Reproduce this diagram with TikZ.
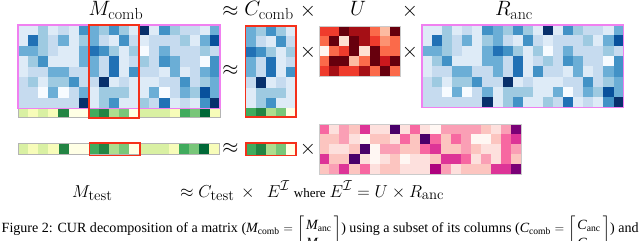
\documentclass[tikz,border=0pt]{standalone}
\usepackage{amsmath}
\usepackage{fontspec}
\newfontfamily\capfont{Liberation Serif}
\DeclareMathSizes{20}{20}{16}{12}
\DeclareMathSizes{18.5}{18.5}{14.8}{10.5}
% Blues
\definecolor{B0}{HTML}{F7FBFF}\definecolor{B1}{HTML}{DEEBF7}\definecolor{B2}{HTML}{C6DBEF}
\definecolor{B3}{HTML}{9ECAE1}\definecolor{B4}{HTML}{6BAED6}\definecolor{B5}{HTML}{4292C6}
\definecolor{B6}{HTML}{2171B5}\definecolor{B7}{HTML}{08519C}\definecolor{B8}{HTML}{08306B}
% YlGn
\definecolor{G0}{HTML}{FFFFE5}\definecolor{G1}{HTML}{F7FCB9}\definecolor{G2}{HTML}{D9F0A3}
\definecolor{G3}{HTML}{ADDD8E}\definecolor{G4}{HTML}{78C679}\definecolor{G5}{HTML}{41AB5D}
\definecolor{G6}{HTML}{238443}\definecolor{G7}{HTML}{006837}\definecolor{G8}{HTML}{004529}
% Reds
\definecolor{R0}{HTML}{FFF5F0}\definecolor{R1}{HTML}{FEE0D2}\definecolor{R2}{HTML}{FCBBA1}
\definecolor{R3}{HTML}{FC9272}\definecolor{R4}{HTML}{FB6A4A}\definecolor{R5}{HTML}{EF3B2C}
\definecolor{R6}{HTML}{CB181D}\definecolor{R7}{HTML}{A50F15}\definecolor{R8}{HTML}{67000D}
% RdPu
\definecolor{P0}{HTML}{FFF7F3}\definecolor{P1}{HTML}{FDE0DD}\definecolor{P2}{HTML}{FCC5C0}
\definecolor{P3}{HTML}{FA9FB5}\definecolor{P4}{HTML}{F768A1}\definecolor{P5}{HTML}{DD3497}
\definecolor{P6}{HTML}{AE017E}\definecolor{P7}{HTML}{7A0177}\definecolor{P8}{HTML}{49006A}
\definecolor{pinkc}{HTML}{F080F0}
\definecolor{redc}{HTML}{F5301A}
\definecolor{grayc}{HTML}{B4B4B4}

\def\Mdata{{1,1,3,1,2,1,5,4,3,5,3,1,8,1,5,3,2,2,1,4},
{1,6,3,2,4,1,3,4,2,1,5,2,1,2,2,2,3,1,4,7},
{4,4,3,2,1,1,4,6,5,3,1,3,0,2,4,2,2,2,3,2},
{1,3,5,1,1,1,4,4,2,6,1,2,3,2,5,4,2,2,0,5},
{1,2,2,4,4,2,2,4,2,6,1,5,2,2,1,4,1,2,4,5},
{2,3,1,3,3,5,2,2,8,1,2,1,1,1,2,2,5,2,3,4},
{2,2,0,4,0,2,4,1,3,3,3,1,1,4,0,2,4,3,7,4},
{2,2,2,2,2,2,8,1,3,5,1,1,3,2,6,1,2,1,5,8}}
\def\Cdata{{4,3,5,3,1},{4,2,1,5,2},{6,5,3,1,3},{4,2,6,1,2},{4,2,6,1,5},{2,8,1,2,1},{1,3,3,3,1},{1,3,5,1,1}}
\def\Gdata{{2,1,2,1,6,0,0,5,6,3,4,0,2,2,2,1,5,4,7,1}}
\def\CGdata{{5,6,3,4,0}}
\def\Udata{{5,5,8,7,7,4,2,8},{4,8,1,8,7,5,3,4},{0,4,5,8,1,8,4,4},{4,8,8,2,4,8,6,8},{5,7,5,5,7,4,8,4}}
\def\Edata{{4,1,3,2,5,1,1,8,1,4,1,0,3,3,3,3,2,1,3,7},
{2,2,3,1,0,2,2,1,4,2,8,4,2,4,3,0,0,2,4,5},
{2,1,1,2,8,0,3,3,2,2,4,5,2,2,3,2,1,1,4,3},
{5,2,2,8,1,0,1,2,0,1,1,2,5,5,4,1,3,1,4,2},
{2,3,5,2,4,1,2,2,1,1,1,6,3,1,2,2,2,5,5,7}}

% #1 x0, #2 y0, #3 cell width, #4 cell height, #5 colour prefix, #6 data macro
\newcommand\heatmap[6]{%
  \foreach \rowvals [count=\j from 0] in #6 {
    \foreach \v [count=\i from 0] in \rowvals {
      \fill[fill=#5\v] ({#1+\i*#3},{#2+\j*#4}) rectangle ++({#3+0.25},{#4+0.25});
    }
  }%
}
\newcommand\capsub[1]{\mbox{\fontsize{9}{9}\selectfont #1}}
\newcommand\capvar[2]{\mbox{\itshape #1}_{\capsub{#2}}}
\newcommand\capmat[2]{\raisebox{-5.6pt}{$\left[\begin{array}{@{\,}c@{\,}} #1 \\[1pt] #2 \end{array}\right]$}}

\tikzset{
  lab/.style={font=\fontsize{20}{24}\selectfont, inner sep=0pt},
  labsmall/.style={font=\fontsize{18.5}{22}\selectfont, inner sep=0pt},
  pinkbox/.style={draw=pinkc, line width=1.3pt},
  redbox/.style={draw=redc, line width=1.6pt},
  graybox/.style={draw=grayc, line width=0.8pt},
  thinbox/.style={draw=grayc!70, line width=0.5pt},
}

\begin{document}
\begin{tikzpicture}[x=1pt,y=-1pt]
\useasboundingbox (0,0) rectangle (640,241);
\fill[white] (0,0) rectangle (640,241);
\clip (0,0) rectangle (640,241);

% M_comb
\heatmap{18}{25}{10.1}{10.4}{B}{\Mdata}
\heatmap{18}{108.6}{10.1}{8.8}{G}{\Gdata}
\draw[graybox] (18,108.6) rectangle (220,117.4);
\draw[pinkbox] (18,25) rectangle (220,108.2);
\draw[redbox] (88.7,25) rectangle (139.2,118);

% C_comb
\heatmap{245.5}{26}{10.1}{10.25}{B}{\Cdata}
\heatmap{245.5}{108}{10.1}{9.2}{G}{\CGdata}
\draw[redbox] (245.5,26) rectangle (296,117.2);

% U
\heatmap{319}{26}{10.1}{10}{R}{\Udata}
\draw[thinbox] (319,26) rectangle (399.8,76);

% R_anc
\heatmap{422}{25}{10.08}{10.3}{B}{\Mdata}
\draw[pinkbox] (422,25) rectangle (623.6,107.4);

% M_test
\heatmap{18.3}{143.3}{10.05}{11}{G}{\Gdata}
\draw[graybox] (18.3,143.3) rectangle (219.3,154.3);
\draw[redbox] (89.5,142.7) rectangle (139.8,155.4);

% C_test
\heatmap{246}{143.3}{10}{11}{G}{\CGdata}
\draw[redbox] (246,142.7) rectangle (296,155.4);

% E
\heatmap{319}{124}{10.13}{10}{P}{\Edata}
\draw[thinbox] (319,124) rectangle (521.6,174);

% labels
\node[lab, anchor=base] (lMcomb) at (116,16) {$M_{\mathrm{comb}}$};
\node[lab] (ap1) at (230.5,11.5) {$\approx$};
\node[lab, anchor=base] (lCcomb) at (269,16) {$C_{\mathrm{comb}}$};
\node[lab] (tm1) at (308,11.5) {$\times$};
\node[lab, anchor=base] (lU) at (358,16) {$U$};
\node[lab] (tm2) at (410,11.5) {$\times$};
\node[lab, anchor=base] (lRanc) at (514,16) {$R_{\mathrm{anc}}$};
\node[lab] (ap2) at (230.5,70) {$\approx$};
\node[lab] (tm3) at (308,52) {$\times$};
\node[lab] (tm4) at (410,52) {$\times$};
\node[lab] (ap3) at (230.5,148.5) {$\approx$};
\node[lab] (tm5) at (308,149) {$\times$};
\node[labsmall, anchor=base west] (lMtest) at (72,197) {$M_{\mathrm{test}}$};
\node[labsmall, anchor=base west] (lbottom) at (180,197)
  {$\approx C_{\mathrm{test}}\,\times\,\ E^{\mathcal{I}}$\hspace{4pt}{\capfont\fontsize{13}{16}\selectfont where}\hspace{4pt}$E^{\mathcal{I}} = U \times R_{\mathrm{anc}}$};

% caption
\node[anchor=base west, inner sep=0pt, font=\capfont\fontsize{13.2}{16}\selectfont] (cap) at (1.5,232)
  {\resizebox{637pt}{!}{Figure 2: CUR decomposition of a matrix
   ($\capvar{M}{comb} = \capmat{\capvar{M}{anc}}{\capvar{M}{test}}$)
   using a subset of its columns
   ($\capvar{C}{comb} = \capmat{\capvar{C}{anc}}{\capvar{C}{test}}$) and}};
\end{tikzpicture}
\end{document}
